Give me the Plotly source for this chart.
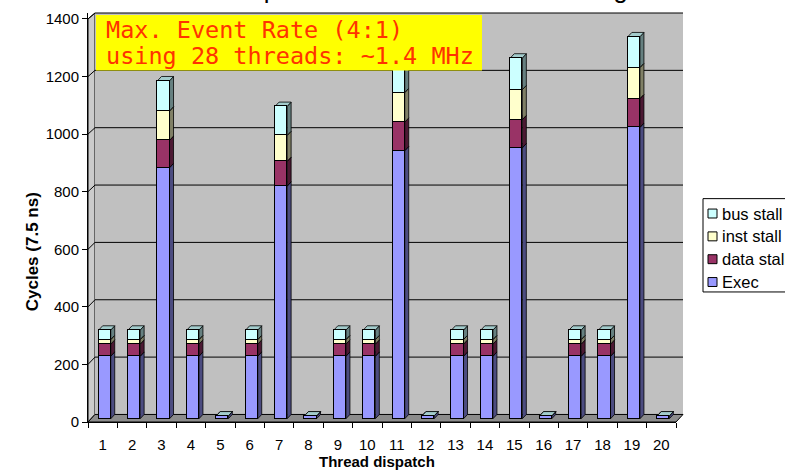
import plotly.graph_objects as go

# ---- data -------------------------------------------------------------
threads = list(range(1, 21))
tick_labels = [str(t) for t in threads]

exec_cycles = [217, 217, 872, 217, 10, 217, 808, 10, 217, 217,
               931, 10, 217, 217, 941, 10, 217, 217, 1012, 10]
data_stall = [42, 42, 95, 42, 0, 42, 86, 0, 42, 42,
              99, 0, 42, 42, 98, 0, 42, 42, 100, 0]
inst_stall = [16, 16, 102, 16, 0, 16, 90, 0, 16, 16,
              103, 0, 16, 16, 104, 0, 16, 16, 108, 0]
bus_stall = [33, 33, 105, 33, 0, 33, 101, 0, 33, 33,
             108, 0, 33, 33, 110, 0, 33, 33, 107, 0]

y_ticks = [0, 200, 400, 600, 800, 1000, 1200, 1400]

series = [
    ("Exec", exec_cycles, "#9999FF", "#7A7ACC", "#4C4C80"),
    ("data stall", data_stall, "#993366", "#7A2952", "#4C1933"),
    ("inst stall", inst_stall, "#FFFFCC", "#CCCCA3", "#808066"),
    ("bus stall", bus_stall, "#CCFFFF", "#A3CCCC", "#668080"),
]

# ---- geometry (pixels) -------------------------------------------------
W, H = 785, 474
L, R, T, B = 88, 676, 10, 422
PW, PH = R - L, B - T
SLOT = PW / len(threads)
UNIT = 0.29                      # px per cycle on the front plane
YMAX = PH / UNIT

WALL_DX, WALL_DY = 7, 7.6        # back wall offset
BAR_DX, BAR_DY = 2, 3.3          # column front-face offset
COL_DX, COL_DY = 4, 4.3          # column depth
BACK_UNIT = (B - WALL_DY - T) / y_ticks[-1]
BAR_W = 0.41


def fx(p):
    return (p - L) / PW


def fy(p):
    return (B - p) / PH


def yf(v):
    return B - v * UNIT


def yb(v):
    return B - WALL_DY - v * BACK_UNIT


fig = go.Figure()

# front-plane axes carry the ticks; an empty trace keeps them drawn
totals = [sum(v) for v in zip(exec_cycles, data_stall, inst_stall, bus_stall)]
fig.add_trace(go.Scatter(x=threads, y=totals, mode="none", showlegend=False,
                         hoverinfo="skip"))

for name, vals, col, _, _ in series:
    fig.add_trace(go.Bar(
        x=threads, y=vals, name=name, xaxis="x2", yaxis="y2",
        width=BAR_W, showlegend=False,
        marker=dict(color=col, line=dict(color="black", width=1)),
    ))

shapes = []

# side wall, back wall and floor
shapes.append(dict(
    type="path", xref="paper", yref="paper", layer="below",
    path=(f"M {fx(L)},{fy(B)} L {fx(L + WALL_DX)},{fy(B - WALL_DY)} "
          f"L {fx(L + WALL_DX)},{fy(T)} L {fx(L)},{fy(yf(y_ticks[-1]))} Z"),
    fillcolor="#CBCBCB", line=dict(color="black", width=1),
))
shapes.append(dict(
    type="rect", xref="paper", yref="paper", layer="below",
    x0=fx(L + WALL_DX), x1=fx(R + WALL_DX), y0=fy(B - WALL_DY), y1=fy(T),
    fillcolor="#C0C0C0", line=dict(width=0),
))
shapes.append(dict(
    type="path", xref="paper", yref="paper", layer="below",
    path=(f"M {fx(L)},{fy(B)} L {fx(L + WALL_DX)},{fy(B - WALL_DY)} "
          f"L {fx(R + WALL_DX)},{fy(B - WALL_DY)} L {fx(R)},{fy(B)} Z"),
    fillcolor="#8C8C8C", line=dict(color="black", width=1),
))

# gridlines on the back wall, continued across the side wall
for v in y_ticks[1:]:
    shapes.append(dict(
        type="line", xref="paper", yref="paper", layer="below",
        x0=fx(L + WALL_DX), x1=fx(R + WALL_DX), y0=fy(yb(v)), y1=fy(yb(v)),
        line=dict(color="black", width=1),
    ))
    shapes.append(dict(
        type="line", xref="paper", yref="paper", layer="below",
        x0=fx(L), x1=fx(L + WALL_DX), y0=fy(yf(v)), y1=fy(yb(v)),
        line=dict(color="black", width=1),
    ))

# top and side faces of each column segment
ddx = COL_DX / SLOT
ddy = COL_DY / UNIT
hw = BAR_W / 2
base = [0.0] * len(threads)
for name, vals, col, top_col, side_col in series:
    for j, t in enumerate(threads):
        y0 = base[j]
        y1 = y0 + vals[j]
        xl, xr = t - hw, t + hw
        if vals[j] > 0:
            shapes.append(dict(
                type="path", xref="x2", yref="y2", layer="below",
                path=(f"M {xr},{y0} L {xr + ddx},{y0 + ddy} "
                      f"L {xr + ddx},{y1 + ddy} L {xr},{y1} Z"),
                fillcolor=side_col, line=dict(color="black", width=0.8),
            ))
        shapes.append(dict(
            type="path", xref="x2", yref="y2", layer="below",
            path=(f"M {xl},{y1} L {xl + ddx},{y1 + ddy} "
                  f"L {xr + ddx},{y1 + ddy} L {xr},{y1} Z"),
            fillcolor=top_col, line=dict(color="black", width=0.8),
        ))
        base[j] = y1

# highlighted note box
shapes.append(dict(
    type="rect", xref="paper", yref="paper", layer="above",
    x0=fx(96), x1=fx(482), y0=fy(68), y1=fy(12),
    fillcolor="#FFFF00", line=dict(width=0),
))

# legend box and swatches
LEG_X0, LEG_Y0, LEG_Y1 = 703, 197, 291
shapes.append(dict(
    type="rect", xref="paper", yref="paper", layer="above",
    x0=fx(LEG_X0), x1=fx(800), y0=fy(LEG_Y1), y1=fy(LEG_Y0),
    fillcolor="white", line=dict(color="black", width=1),
))
legend_rows = [212, 235, 258, 281]
annotations = []
for row, (name, _, col, _, _) in zip(legend_rows, reversed(series)):
    shapes.append(dict(
        type="rect", xref="paper", yref="paper", layer="above",
        x0=fx(708), x1=fx(717), y0=fy(row + 4.5), y1=fy(row - 4.5),
        fillcolor=col, line=dict(color="black", width=1),
    ))
    annotations.append(dict(
        xref="paper", yref="paper", x=fx(720), y=fy(row),
        xanchor="left", yanchor="middle", showarrow=False, text=name,
        font=dict(family="Liberation Sans, Arial", size=16.5, color="black"),
    ))

# note text
note_font = dict(family="DejaVu Sans Mono, monospace", size=23.5, color="#FF3300")
annotations.append(dict(
    xref="paper", yref="paper", x=fx(104), y=fy(43.5), xanchor="left",
    yanchor="bottom", showarrow=False, text="Max. Event Rate (4:1)", font=note_font,
))
annotations.append(dict(
    xref="paper", yref="paper", x=fx(104), y=fy(69.5), xanchor="left",
    yanchor="bottom", showarrow=False, text="using 28 threads: ~1.4 MHz",
    font=note_font,
))

# chart title (sits mostly above the page edge)
annotations.append(dict(
    xref="paper", yref="paper", x=fx(119), y=fy(2), xanchor="left",
    yanchor="bottom", showarrow=False,
    text="Thread Compute Time for the Event Building",
    font=dict(family="Liberation Sans, Arial", size=25.7, color="black"),
))

# axis titles
annotations.append(dict(
    xref="paper", yref="paper", x=fx(377), y=fy(462), xanchor="center",
    yanchor="middle", showarrow=False, text="<b>Thread dispatch</b>",
    font=dict(family="Liberation Sans, Arial", size=15, color="black"),
))
annotations.append(dict(
    xref="paper", yref="paper", x=fx(32), y=fy(251), xanchor="center",
    yanchor="middle", showarrow=False, text="<b>Cycles (7.5 ns)</b>",
    textangle=-90,
    font=dict(family="Liberation Sans, Arial", size=17, color="black"),
))

tick_font = dict(family="Liberation Sans, Arial", size=15, color="black")

fig.update_layout(
    width=W, height=H, autosize=False,
    margin=dict(l=L, r=W - R, t=T, b=H - B, pad=0),
    paper_bgcolor="white", plot_bgcolor="rgba(0,0,0,0)",
    barmode="stack", bargap=0,
    showlegend=False,
    shapes=shapes, annotations=annotations,
    xaxis=dict(
        range=[0.5, len(threads) + 0.5], tickmode="array",
        tickvals=threads, ticktext=tick_labels,
        ticks="outside", ticklen=5, tickcolor="rgba(0,0,0,0)",
        ticklabelstandoff=4,
        minor=dict(tickmode="array",
                   tickvals=[t - 0.5 for t in threads] + [threads[-1] + 0.5],
                   ticks="outside", ticklen=5, tickcolor="black", showgrid=False),
        showline=True, linecolor="black", linewidth=1,
        showgrid=False, zeroline=False, tickfont=tick_font,
    ),
    yaxis=dict(
        range=[0, YMAX], tickmode="array", tickvals=y_ticks,
        ticks="outside", ticklen=5, tickcolor="black",
        showline=True, linecolor="black", linewidth=1,
        showgrid=False, zeroline=False, tickfont=tick_font,
    ),
    xaxis2=dict(
        overlaying="x", visible=False,
        range=[0.5 - BAR_DX / SLOT, len(threads) + 0.5 - BAR_DX / SLOT],
    ),
    yaxis2=dict(
        overlaying="y", visible=False,
        range=[-BAR_DY / UNIT, (PH - BAR_DY) / UNIT],
    ),
)

fig.write_html("out.html")
